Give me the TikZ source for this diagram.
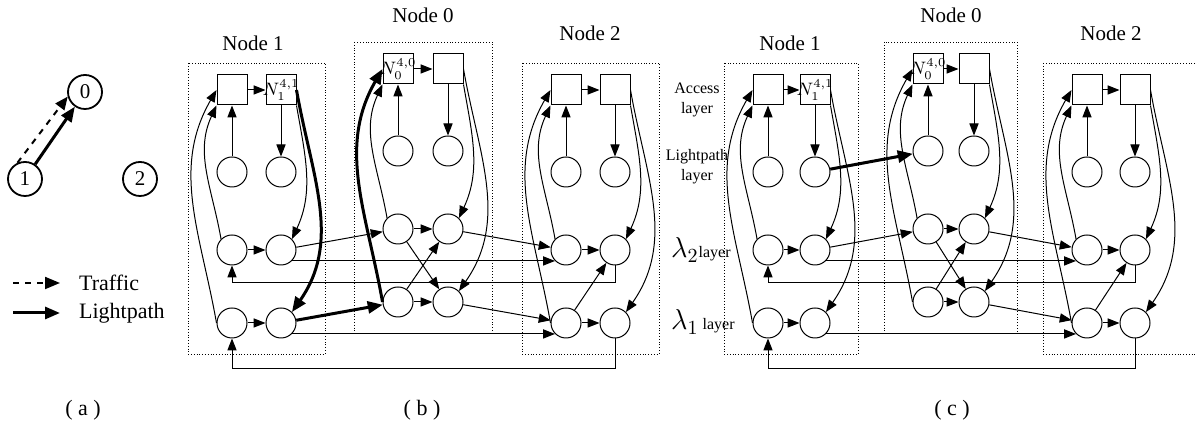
\documentclass[tikz,border=0pt]{standalone}
\usepackage{fontspec}
\setmainfont{Liberation Serif}
\usetikzlibrary{arrows.meta}

\begin{document}
\begin{tikzpicture}[x=0.5pt,y=0.5pt,line width=0.5pt,
  >={Triangle[length=6pt,width=4.6pt]},
  sq/.style={draw,minimum size=15pt,inner sep=0pt,font=\small},
  cir/.style={draw,circle,minimum size=15pt,inner sep=0pt},
  pcir/.style={draw,circle,line width=0.9pt,minimum size=17pt,inner sep=0pt,font=\fontsize{10.5}{12}\selectfont},
  box/.style={densely dotted,line width=0.4pt},
  fib/.style={},
  lpath/.style={line width=1.5pt,-{Triangle[length=7.5pt,width=6pt]}},
  ttl/.style={font=\fontsize{10.5}{12}\selectfont},
  lay/.style={font=\fontsize{8}{10}\selectfont,align=center},
  lbl/.style={font=\fontsize{11}{13}\selectfont}]
\useasboundingbox (0,0) rectangle (1196,-431);

% (a)
\node[pcir] (A0) at (85,-92) {0};
\node[pcir] (A1) at (25,-179) {1};
\node[pcir] (A2) at (140,-179) {2};
\draw[->,dashed,line width=1pt,>={Triangle[length=6.5pt,width=5.5pt]}] (A1.115) -- (A0.195);
\draw[lpath] (A1) -- (A0);
\coordinate (T0) at (13,-283);
\coordinate (T1) at (60,-283);
\draw[->,dashed,line width=1pt,>={Triangle[length=7.5pt,width=6pt]}] (T0) -- (T1);
\node[lbl,anchor=west] (TT) at (72,-283) {Traffic};
\coordinate (L0) at (13,-313);
\coordinate (L1) at (60,-313);
\draw[lpath] (L0) -- (L1);
\node[lbl,anchor=west] (LT) at (72,-313) {Lightpath};

% node blocks of (b) and (c)
\foreach \p/\xl/\xr/\yo/\xb/\la/\lb/\ta/\tb in {b1/232/281/0/325/fib/lpath//{$N_1^{4,1}$},
  b0/398/448/21/492/lpath/fib/{$N_0^{4,0}$}/,b2/566/615/0/659/fib/fib//,
  c1/768/815/0/858/fib/fib//{$N_1^{4,1}$},c0/928/974/21/1017/fib/fib/{$N_0^{4,0}$}/,
  c2/1087/1135/0/1199/fib/fib//}{
  \node[sq] (\p-al) at (\xl,-90+\yo) {\makebox[0pt]{\ta}};
  \node[sq] (\p-ar) at (\xr,-90+\yo) {\makebox[0pt]{\tb}};
  \node[cir] (\p-ll) at (\xl,-172+\yo) {};
  \node[cir] (\p-lr) at (\xr,-172+\yo) {};
  \node[cir] (\p-2l) at (\xl,-250+\yo) {};
  \node[cir] (\p-2r) at (\xr,-250+\yo) {};
  \node[cir] (\p-1l) at (\xl,-323+\yo) {};
  \node[cir] (\p-1r) at (\xr,-323+\yo) {};
  \draw[box] (\xl-44,-63+\yo) rectangle (\xb,-354+\yo);
  \draw[->] (\p-al) -- (\p-ar);
  \draw[->] (\p-ll) -- (\p-al);
  \draw[->] (\p-ar) -- (\p-lr);
  \draw[->] (\p-2l) -- (\p-2r);
  \draw[->] (\p-1l) -- (\p-1r);
  \draw[->] (\p-2l.north west) to[out=100,in=245] (\p-al.south west);
  \draw[->,\la] (\p-1l.west) to[out=100,in=240] (\p-al.west);
  \draw[->] (\p-ar.south east) to[out=-80,in=65] (\p-2r.north east);
  \draw[->,\lb] (\p-ar.east) to[out=-80,in=55] (\p-1r.north east);
}

% (b)
\draw[->] (b1-2r) -- (b0-2l);
\draw[->] (b1-2r.-45) -- (b2-2l.-135);
\draw[lpath] (b1-1r) -- (b0-1l);
\draw[->] (b1-1r.-45) -- (b2-1l.-135);
\draw[->] (b0-2r) -- (b2-2l);
\draw[->] (b0-1r) -- (b2-1l);
\draw[->] (b0-2l) -- (b0-1r);
\draw[->] (b0-1l) -- (b0-2r);
\draw[->] (b2-1l) -- (b2-2r);
\draw[->] (b2-2r.south) -- ++(0,-17) -| (b1-2l.south);
\draw[->] (b2-1r.south) -- ++(0,-30) -| (b1-1l.south);

% (c)
\draw[->] (c1-2r) -- (c0-2l);
\draw[->] (c1-2r.-45) -- (c2-2l.-135);
\draw[->] (c1-1r.-45) -- (c2-1l.-135);
\draw[lpath] (c1-lr) -- (c0-ll);
\draw[->] (c0-2r) -- (c2-2l);
\draw[->] (c0-1r) -- (c2-1l);
\draw[->] (c0-2l) -- (c0-1r);
\draw[->] (c0-1l) -- (c0-2r);
\draw[->] (c2-1l) -- (c2-2r);
\draw[->] (c2-2r.south) -- ++(0,-17) -| (c1-2l.south);
\draw[->] (c2-1r.south) -- ++(0,-30) -| (c1-1l.south);

% titles and labels
\node[ttl] (B1) at (253,-43) {Node 1};
\node[ttl] (B0) at (423,-15) {Node 0};
\node[ttl] (B2) at (590,-33) {Node 2};
\node[ttl] (C1) at (790,-43) {Node 1};
\node[ttl] (C0) at (951,-15) {Node 0};
\node[ttl] (C2) at (1111,-33) {Node 2};
\node[lay] (AC) at (697,-100) {Access\\layer};
\node[lay] (LP) at (697,-167) {Lightpath\\layer};
\node[lay,anchor=west] (W2) at (664,-250) {{\fontsize{14}{14}\selectfont$\lambda_2$}layer};
\node[lay,anchor=west] (W1) at (664,-322) {{\fontsize{14}{14}\selectfont$\lambda_1$} layer};
\node[lbl] (LA) at (83,-410) {( a )};
\node[lbl] (LB) at (422,-410) {( b )};
\node[lbl] (LC) at (952,-410) {( c )};
\end{tikzpicture}
\end{document}
